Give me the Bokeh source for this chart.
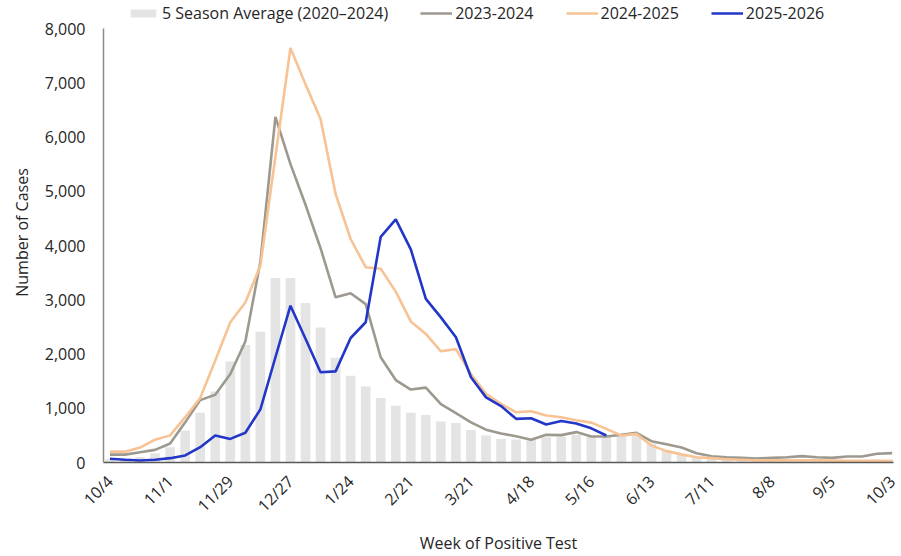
import math
from bokeh.plotting import figure
from bokeh.models import ColumnDataSource, Legend, LegendItem, FixedTicker, NumeralTickFormatter, Range1d
from bokeh.embed import file_html
from bokeh.resources import INLINE

weeks = ["10/4", "10/11", "10/18", "10/25", "11/1", "11/8", "11/15", "11/22", "11/29", "12/6",
         "12/13", "12/20", "12/27", "1/3", "1/10", "1/17", "1/24", "1/31", "2/7", "2/14",
         "2/21", "2/28", "3/7", "3/14", "3/21", "3/28", "4/4", "4/11", "4/18", "4/25",
         "5/2", "5/9", "5/16", "5/23", "5/30", "6/6", "6/13", "6/20", "6/27", "7/4",
         "7/11", "7/18", "7/25", "8/1", "8/8", "8/15", "8/22", "8/29", "9/5", "9/12",
         "9/19", "9/26", "10/3"]

avg_5season = [60, 80, 100, 170, 280, 590, 915, 1310, 1860, 2165,
               2410, 3400, 3400, 2940, 2490, 1930, 1600, 1400, 1190, 1045,
               915, 875, 755, 730, 600, 497, 435, 425, 445, 465,
               480, 510, 480, 497, 510, 528, 345, 220, 147, 98,
               68, 55, 50, 45, 45, 45, 45, 45, 45, 45,
               50, 50, 50]

s2023_2024 = [145, 145, 190, 233, 350, 740, 1150, 1250, 1630, 2230,
              3700, 6370, 5500, 4750, 3950, 3045, 3120, 2920, 1940, 1520,
              1345, 1380, 1075, 910, 740, 605, 535, 485, 420, 510,
              505, 560, 480, 480, 512, 547, 392, 338, 276, 170,
              115, 98, 86, 74, 86, 98, 117, 98, 86, 110,
              110, 160, 172]

s2024_2025 = [200, 200, 275, 420, 500, 835, 1190, 1880, 2585, 2950,
              3630, 5640, 7640, 6970, 6330, 4950, 4120, 3600, 3570, 3150,
              2600, 2370, 2050, 2090, 1630, 1265, 1080, 925, 945, 865,
              835, 780, 735, 620, 495, 528, 313, 210, 150, 98,
              80, 60, 50, 40, 40, 40, 40, 40, 35, 30,
              30, 30, 25]

s2025_2026 = [68, 50, 37, 50, 80, 130, 282, 497, 435, 547,
              980, 1940, 2890, 2280, 1665, 1680, 2295, 2585, 4160, 4480,
              3930, 3015, 2675, 2310, 1570, 1200, 1040, 805, 815, 700,
              765, 720, 630, 497]

y_ticks = [0, 1000, 2000, 3000, 4000, 5000, 6000, 7000, 8000]
x_tick_idx = list(range(0, len(weeks), 4))

FONT = "Open Sans"

# axis reaches 8,000; the frame extends a little higher to leave room for the legend
Y_AXIS_MAX = 8000
FRAME_H = 460
AXIS_H = 434
y_top = Y_AXIS_MAX * FRAME_H / AXIS_H

idx = list(range(len(weeks)))
src = ColumnDataSource(dict(x=idx, avg=avg_5season, a=s2023_2024, b=s2024_2025))
src_c = ColumnDataSource(dict(x=idx[:len(s2025_2026)], c=s2025_2026))

p = figure(frame_width=790, frame_height=FRAME_H, output_backend="svg", toolbar_location=None,
           x_range=Range1d(-0.43, 52.09), y_range=Range1d(0, y_top),
           min_border_top=2, min_border_right=8, min_border_left=103, min_border_bottom=94)
p.outline_line_color = None
p.xgrid.grid_line_color = None
p.ygrid.grid_line_color = None
p.background_fill_color = "white"
p.border_fill_color = "white"

bars = p.vbar(x="x", top="avg", width=0.64, source=src, fill_color="#e4e4e4", line_color=None)
la = p.line("x", "a", source=src, line_color="#9e998f", line_width=2.6)
lb = p.line("x", "b", source=src, line_color="#f7c395", line_width=2.6)
lc = p.line("x", "c", source=src_c, line_color="#2236c8", line_width=2.6)

legend = Legend(items=[
    LegendItem(label="5 Season Average (2020\u20132024)", renderers=[bars]),
    LegendItem(label="2023-2024", renderers=[la]),
    LegendItem(label="2024-2025", renderers=[lb]),
    LegendItem(label="2025-2026", renderers=[lc]),
], orientation="horizontal", location=(24, 438))
legend.border_line_color = None
legend.background_fill_alpha = 0
legend.padding = 0
legend.margin = 0
legend.spacing = 32
legend.glyph_width = 32
legend.glyph_height = 10
legend.label_height = 20
legend.label_standoff = 3
legend.label_text_font = FONT
legend.label_text_font_size = "16px"
legend.label_text_color = "#262626"
p.add_layout(legend, "center")

# Y axis
p.yaxis.ticker = FixedTicker(ticks=y_ticks)
p.yaxis.bounds = (0, Y_AXIS_MAX)
p.yaxis.formatter = NumeralTickFormatter(format="0,0")
p.yaxis.axis_label = "Number of Cases"
p.yaxis.axis_line_color = "#8c8c8c"
p.yaxis.axis_line_width = 1.5
p.yaxis.major_tick_out = 0
p.yaxis.major_tick_in = 0
p.yaxis.major_tick_line_color = None
p.yaxis.minor_tick_line_color = None
p.yaxis.major_label_standoff = 18
p.yaxis.axis_label_standoff = 9

# X axis
p.xaxis.ticker = FixedTicker(ticks=x_tick_idx)
p.xaxis.major_label_overrides = {i: weeks[i] for i in x_tick_idx}
p.xaxis.major_label_orientation = math.pi / 4
p.xaxis.axis_label = "Week of Positive Test"
p.xaxis.axis_line_color = "#595959"
p.xaxis.axis_line_width = 1.5
p.xaxis.major_tick_out = 0
p.xaxis.major_tick_in = 0
p.xaxis.major_tick_line_color = None
p.xaxis.minor_tick_line_color = None
p.xaxis.major_label_standoff = 16
p.xaxis.axis_label_standoff = 5

for ax in (p.xaxis, p.yaxis):
    ax.major_label_text_font = FONT
    ax.major_label_text_font_size = "16px"
    ax.major_label_text_color = "#262626"
    ax.axis_label_text_font = FONT
    ax.axis_label_text_font_size = "16px"
    ax.axis_label_text_font_style = "normal"
    ax.axis_label_text_color = "#262626"

open("out.html", "w").write(file_html(p, INLINE))
